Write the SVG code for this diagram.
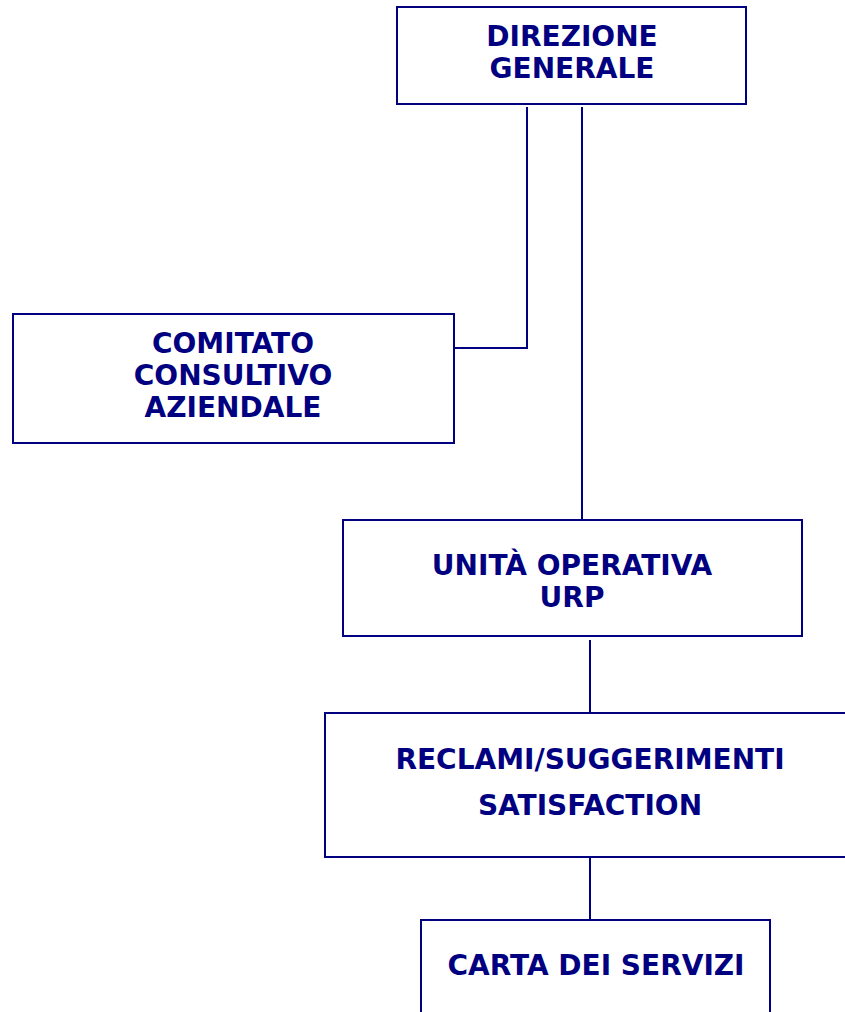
<svg xmlns="http://www.w3.org/2000/svg" width="845" height="1012" viewBox="0 0 845 1012">
<style>
.box{fill:#fff;stroke:#000080;stroke-width:2}
.con{fill:none;stroke:#000080;stroke-width:2}
.t{font-family:"DejaVu Sans",Verdana,sans-serif;font-weight:bold;font-size:28px;fill:#000080;text-anchor:middle}
</style>
<rect width="845" height="1012" fill="#fff"/>
<g id="connectors">
<polyline class="con" points="527,107 527,348 454,348"/>
<line class="con" x1="582" y1="107" x2="582" y2="520"/>
<line class="con" x1="590" y1="640" x2="590" y2="713"/>
<line class="con" x1="590" y1="857" x2="590" y2="920"/>
</g>
<g id="direzione">
<rect class="box" x="397" y="7" width="349" height="97"/>
<text class="t" x="572" y="46">DIREZIONE</text>
<text class="t" x="572" y="78">GENERALE</text>
</g>
<g id="comitato">
<rect class="box" x="13" y="314" width="441" height="129"/>
<text class="t" x="233" y="353">COMITATO</text>
<text class="t" x="233" y="385">CONSULTIVO</text>
<text class="t" x="233" y="417">AZIENDALE</text>
</g>
<g id="urp">
<rect class="box" x="343" y="520" width="459" height="116"/>
<text class="t" x="572" y="575">UNITÀ OPERATIVA</text>
<text class="t" x="572" y="607">URP</text>
</g>
<g id="reclami">
<rect class="box" x="325" y="713" width="530" height="144"/>
<text class="t" x="590" y="769">RECLAMI/SUGGERIMENTI</text>
<text class="t" x="590" y="815">SATISFACTION</text>
</g>
<g id="carta">
<rect class="box" x="421" y="920" width="349" height="100"/>
<text class="t" x="596" y="975">CARTA DEI SERVIZI</text>
</g>
</svg>
